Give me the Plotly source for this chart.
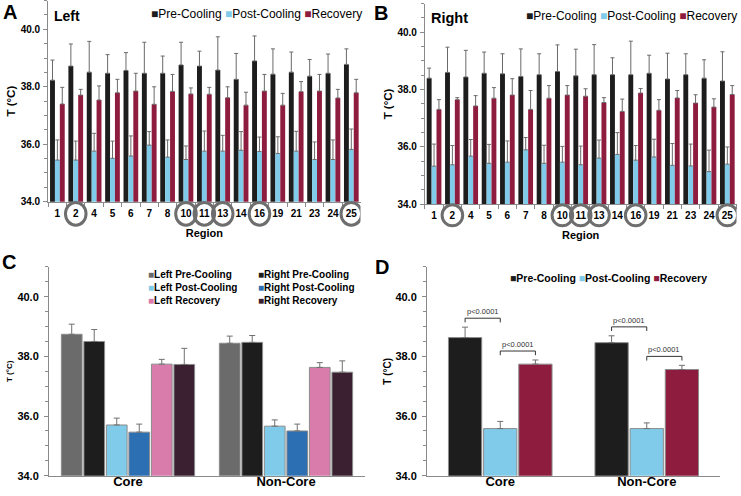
import plotly.graph_objects as go

W, H = 741, 496
FONT = "Liberation Sans, Arial, sans-serif"

# ---------------- data ----------------
regions = ["1", "2", "4", "5", "6", "7", "8", "10", "11", "13", "14", "16", "19", "21", "23", "24", "25"]
circled = ["2", "10", "11", "13", "16", "25"]

left_pre = [38.23, 38.72, 38.51, 38.47, 38.57, 38.47, 38.47, 38.76, 38.72, 38.58, 38.26, 38.90, 38.44, 38.51, 38.37, 38.47, 38.78]
left_pre_err = [0.70, 0.77, 1.07, 0.65, 0.62, 1.08, 0.60, 0.79, 0.52, 1.16, 0.90, 0.87, 0.88, 0.70, 0.58, 0.67, 0.54]
left_post = [35.45, 35.45, 35.76, 35.51, 35.59, 35.97, 35.55, 35.47, 35.76, 35.76, 35.79, 35.75, 35.68, 35.76, 35.47, 35.47, 35.82]
left_post_err = [0.70, 0.66, 0.62, 0.60, 0.70, 0.47, 0.60, 0.47, 0.70, 0.55, 0.65, 0.50, 0.58, 0.69, 0.61, 0.68, 0.71]
left_rec = [37.40, 37.71, 37.54, 37.79, 37.85, 37.39, 37.84, 37.75, 37.74, 37.62, 37.36, 37.85, 37.36, 37.83, 37.85, 37.61, 37.79]
left_rec_err = [0.58, 0.20, 0.49, 0.47, 0.62, 0.61, 0.59, 0.21, 0.24, 0.38, 0.45, 0.58, 0.41, 0.35, 0.58, 0.30, 0.47]

right_pre = [38.40, 38.60, 38.44, 38.57, 38.55, 38.46, 38.52, 38.63, 38.48, 38.52, 38.52, 38.52, 38.57, 38.37, 38.52, 38.40, 38.30]
right_pre_err = [0.35, 0.88, 0.93, 0.74, 0.70, 0.96, 0.73, 0.93, 0.93, 1.05, 0.59, 1.17, 0.63, 0.90, 0.73, 0.64, 1.02]
right_post = [35.33, 35.38, 35.68, 35.43, 35.47, 35.90, 35.43, 35.47, 35.38, 35.61, 35.74, 35.54, 35.65, 35.36, 35.34, 35.14, 35.40]
right_post_err = [0.77, 0.67, 0.58, 0.66, 0.74, 0.43, 0.63, 0.55, 0.65, 0.63, 0.76, 0.51, 0.62, 0.76, 0.76, 0.75, 0.60]
right_rec = [37.31, 37.65, 37.43, 37.70, 37.81, 37.31, 37.70, 37.81, 37.77, 37.55, 37.24, 37.88, 37.28, 37.71, 37.53, 37.39, 37.83]
right_rec_err = [0.34, 0.07, 0.36, 0.37, 0.57, 0.66, 0.44, 0.33, 0.26, 0.17, 0.43, 0.16, 0.37, 0.26, 0.29, 0.29, 0.31]

groups = ["Core", "Non-Core"]
c_left_pre = [38.74, 38.44]
c_left_pre_err = [0.34, 0.24]
c_right_pre = [38.50, 38.47]
c_right_pre_err = [0.40, 0.23]
c_left_post = [35.70, 35.66]
c_left_post_err = [0.23, 0.21]
c_right_post = [35.46, 35.50]
c_right_post_err = [0.27, 0.23]
c_left_rec = [37.74, 37.63]
c_left_rec_err = [0.16, 0.16]
c_right_rec = [37.73, 37.47]
c_right_rec_err = [0.54, 0.38]

d_pre = [38.63, 38.46]
d_pre_err = [0.35, 0.23]
d_post = [35.58, 35.58]
d_post_err = [0.24, 0.19]
d_rec = [37.74, 37.56]
d_rec_err = [0.14, 0.14]

p_label = "p&lt;0.0001"

# ---------------- styles ----------------
C_BLACK = "#1d1d1d"
C_LBLUE = "#80cbe9"
C_MAROON = "#8e1c3e"
C_GRAY = "#6b6b6b"
C_BLUE = "#2c6fb3"
C_PINK = "#d97bab"
C_DARK = "#3a2030"
AXIS = "#8a8a8a"


def px(x):
    return x / W


def py(y):
    return 1 - y / H


fig = go.Figure()


def add_bars(xax, yax, cats, series, width, offsets, outline, ecol, ecap):
    for (name, vals, errs, color), off in zip(series, offsets):
        fig.add_trace(go.Bar(
            x=cats, y=vals, name=name, width=width, offset=off,
            marker=dict(color=color, line=dict(color=outline or color, width=1 if outline else 0)),
            error_y=dict(type="data", symmetric=False, array=errs, arrayminus=[0] * len(errs),
                         color=ecol, thickness=1, width=ecap),
            xaxis=xax, yaxis=yax, showlegend=False))


# panel A / B
wA = 0.8 / 3
offA = [-0.4 + i * wA for i in range(3)]
add_bars("x", "y", regions, [
    ("Pre-Cooling", left_pre, left_pre_err, C_BLACK),
    ("Post-Cooling", left_post, left_post_err, C_LBLUE),
    ("Recovery", left_rec, left_rec_err, C_MAROON)], wA, offA, None, "#6a6a6a", 2)
add_bars("x2", "y2", regions, [
    ("Pre-Cooling", right_pre, right_pre_err, C_BLACK),
    ("Post-Cooling", right_post, right_post_err, C_LBLUE),
    ("Recovery", right_rec, right_rec_err, C_MAROON)], wA, offA, None, "#6a6a6a", 2)

# panel C
slotC = 0.855 / 6
wC = 0.131
offC = [-0.4275 + i * slotC + (slotC - wC) / 2 for i in range(6)]
add_bars("x3", "y3", groups, [
    ("Left Pre-Cooling", c_left_pre, c_left_pre_err, C_GRAY),
    ("Right Pre-Cooling", c_right_pre, c_right_pre_err, C_BLACK),
    ("Left Post-Cooling", c_left_post, c_left_post_err, C_LBLUE),
    ("Right Post-Cooling", c_right_post, c_right_post_err, C_BLUE),
    ("Left Recovery", c_left_rec, c_left_rec_err, C_PINK),
    ("Right Recovery", c_right_rec, c_right_rec_err, C_DARK)], wC, offC, "#8c8c8c", "#707070", 3)

# panel D
slotD = 0.24
wD = 0.227
offD = [-0.36 + i * slotD + (slotD - wD) / 2 for i in range(3)]
add_bars("x4", "y4", groups, [
    ("Pre-Cooling", d_pre, d_pre_err, C_BLACK),
    ("Post-Cooling", d_post, d_post_err, C_LBLUE),
    ("Recovery", d_rec, d_rec_err, C_MAROON)], wD, offD, "#8c8c8c", "#707070", 3)


def yax(domain, anchor, tsize, title_size, standoff, lstand):
    return dict(domain=domain, anchor=anchor, range=[34, 41], tickmode="linear", tick0=34, dtick=2,
                tickformat=".1f", ticks="outside", ticklen=4, tickcolor=AXIS, ticklabelstandoff=lstand,
                minor=dict(dtick=0.5, tick0=34, ticks="outside", ticklen=3, tickcolor=AXIS),
                showline=True, linecolor=AXIS, linewidth=1, showgrid=False, zeroline=False,
                automargin=False,
                tickfont=dict(family=FONT, size=tsize, color="black", weight="bold"),
                title=dict(text="T (°C)", font=dict(family=FONT, size=title_size, color="black", weight="bold"),
                           standoff=standoff))


def xax_regions(domain, anchor):
    return dict(domain=domain, anchor=anchor, type="category", categoryorder="array", categoryarray=regions,
                range=[-0.5, len(regions) - 0.5], showline=True, linecolor=AXIS, linewidth=1,
                ticks="outside", tickson="boundaries", ticklen=4, tickcolor=AXIS, showgrid=False,
                tickangle=0, ticklabelstandoff=2, automargin=False,
                tickfont=dict(family=FONT, size=10, color="black", weight="bold"),
                title=dict(text="Region", font=dict(family=FONT, size=11, color="black", weight="bold"), standoff=11))


def xax_groups(domain, anchor):
    return dict(domain=domain, anchor=anchor, type="category", categoryorder="array", categoryarray=groups,
                range=[-0.5, len(groups) - 0.5], showline=True, linecolor=AXIS, linewidth=1,
                ticks="", showgrid=False, tickangle=0, ticklabelstandoff=-6, automargin=False,
                tickfont=dict(family=FONT, size=13, color="black", weight="bold"))


fig.update_layout(
    width=W, height=H, margin=dict(l=0, r=0, t=0, b=0, pad=0, autoexpand=False),
    plot_bgcolor="white", paper_bgcolor="white", barmode="overlay",
    font=dict(family=FONT, color="black"),
    xaxis=xax_regions([px(48.2), px(360.5)], "y"),
    yaxis=yax([py(201.7), py(0.6)], "x", 10, 11.5, 2, 1),
    xaxis2=xax_regions([px(424.9), px(736.5)], "y2"),
    yaxis2=yax([py(204.3), py(3.6)], "x2", 10, 11.5, 2, 1),
    xaxis3=xax_groups([px(49), px(365)], "y3"),
    yaxis3=yax([py(475.7), py(266.9)], "x3", 11, 8, 3, 3),
    xaxis4=xax_groups([px(427), px(720)], "y4"),
    yaxis4=yax([py(475.7), py(266.9)], "x4", 11, 10, 1, 3),
)

# circled region labels
for xr, yref, y0, y1 in (("x", "y domain", -23.5, -0.8), ("x2", "y2 domain", -21.5, -0.5)):
    for r in circled:
        fig.add_shape(type="circle", xref=xr, yref=yref, xsizemode="pixel", ysizemode="pixel",
                      xanchor=regions.index(r), yanchor=0, x0=-10.3, x1=10.3, y0=y0, y1=y1,
                      line=dict(color="#6e6e6e", width=3), layer="above")

# significance brackets in D
def bracket(gi, a, b, tops):
    xa = gi + offD[a] + wD / 2
    xb = gi + offD[b] + wD / 2
    top = max(tops[a][gi], tops[b][gi])
    y_end = top + 0.16
    y_line = top + 0.30
    for x0, y0, x1, y1 in ((xa, y_end, xa, y_line), (xa, y_line, xb, y_line), (xb, y_line, xb, y_end)):
        fig.add_shape(type="line", xref="x4", yref="y4", x0=x0, y0=y0, x1=x1, y1=y1,
                      line=dict(color="#333333", width=1))
    fig.add_annotation(xref="x4", yref="y4", x=(xa + xb) / 2, y=y_line, yanchor="bottom", text=p_label,
                       showarrow=False, font=dict(family=FONT, size=7.5, color="#333333"), yshift=0)


d_tops = [[v + e for v, e in zip(d_pre, d_pre_err)],
          [v + e for v, e in zip(d_post, d_post_err)],
          [v + e for v, e in zip(d_rec, d_rec_err)]]
for gi in range(len(groups)):
    bracket(gi, 0, 1, d_tops)
    bracket(gi, 1, 2, d_tops)


def sq(c):
    return f"<span style='color:{c}'>■</span>"


def ann(x, y, text, size, bold=True, xanchor="center", align="center"):
    fig.add_annotation(xref="paper", yref="paper", x=px(x), y=py(y), text=text, showarrow=False,
                       xanchor=xanchor, yanchor="middle", align=align, borderpad=0,
                       font=dict(family=FONT, size=size, color="black", weight="bold" if bold else "normal"))


# panel letters and titles
ann(10, 12, "A", 20)
ann(381, 13, "B", 20)
ann(9, 262, "C", 20)
ann(382, 267, "D", 20)
ann(67, 15.5, "Left", 14)
ann(450, 17.5, "Right", 14.5)

# legends
leg3 = f"{sq(C_BLACK)}Pre-Cooling {sq(C_LBLUE)}Post-Cooling {sq(C_MAROON)}Recovery"
ann(363, 14, leg3, 12, bold=False, xanchor="right")
ann(738, 16, leg3, 12, bold=False, xanchor="right")
ann(708, 278, leg3, 10.5, bold=True, xanchor="right")
ann(147, 287, f"{sq(C_GRAY)}Left Pre-Cooling<br>{sq(C_LBLUE)}Left Post-Cooling<br>{sq(C_PINK)}Left Recovery",
    10, xanchor="left", align="left")
ann(257, 287, f"{sq(C_BLACK)}Right Pre-Cooling<br>{sq(C_BLUE)}Right Post-Cooling<br>{sq(C_DARK)}Right Recovery",
    10, xanchor="left", align="left")

fig.write_html("out.html", config={"displayModeBar": False},
               post_script="document.body.style.margin='0';document.body.style.overflow='hidden';")
